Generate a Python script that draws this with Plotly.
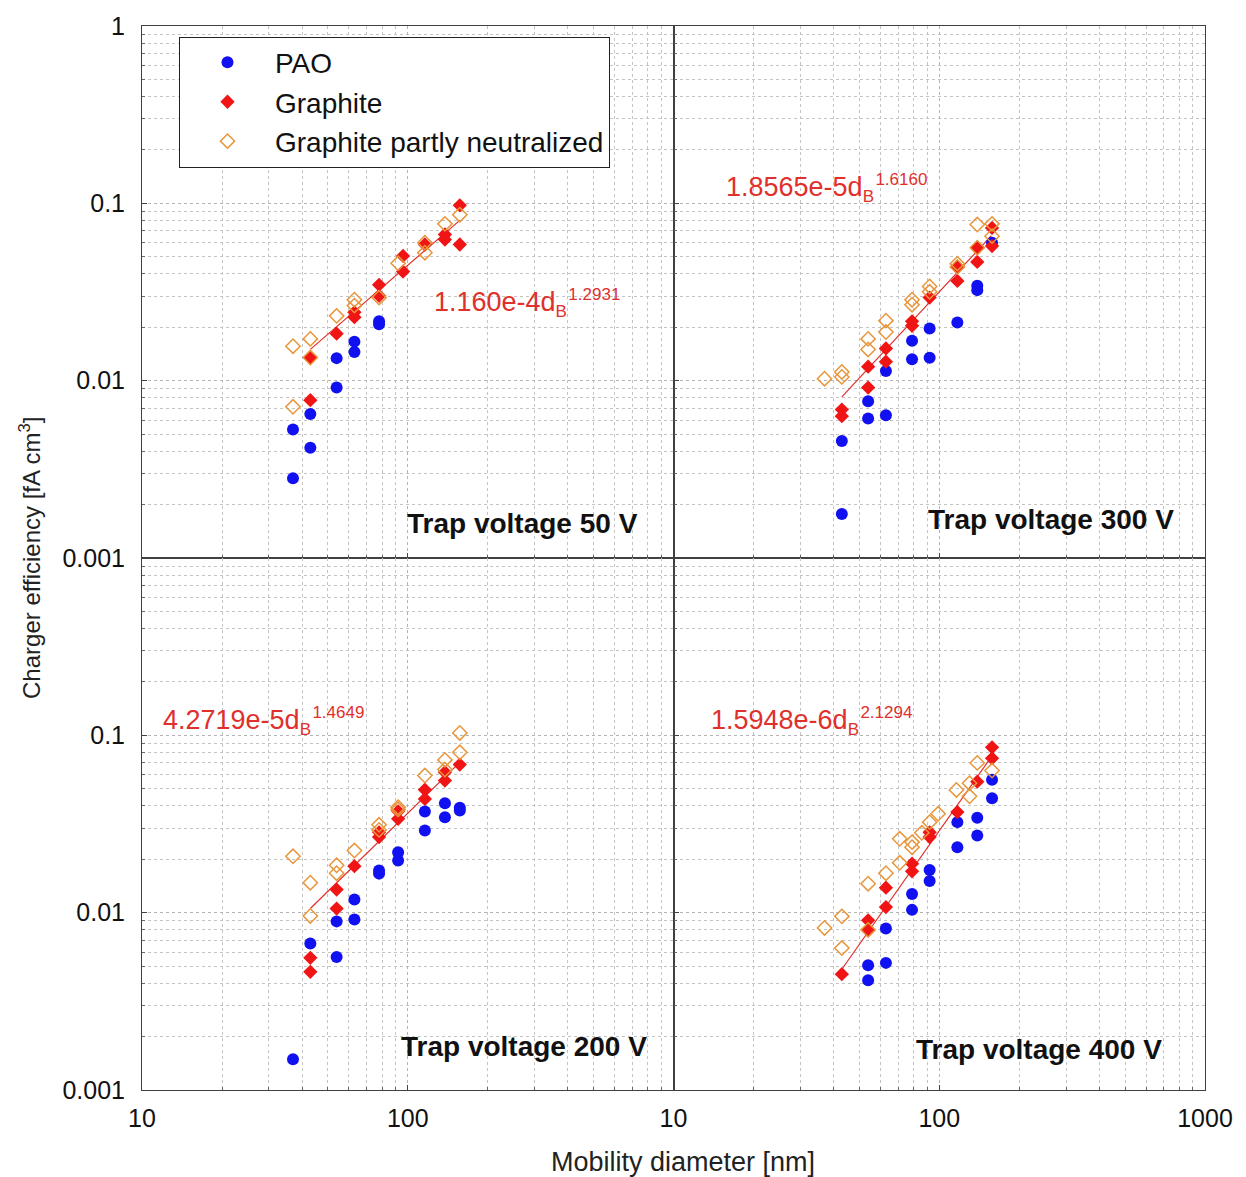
import numpy as np
import plotly.graph_objects as go

# ---- measured charger efficiencies [fA cm^3] vs mobility diameter [nm] ----
# Trap voltage 50 V
pao_50_d = [37, 37, 43, 43, 54, 54, 63, 63, 78, 78]
pao_50_v = [0.00531, 0.00282, 0.00648, 0.00419, 0.0134, 0.00914, 0.0166, 0.0145, 0.0216, 0.0208]
gra_50_d = [43, 43, 54, 63, 63, 78, 78, 96, 96, 116, 138, 138, 157, 157]
gra_50_v = [0.01345, 0.00776, 0.0184, 0.0243, 0.0228, 0.0347, 0.0301, 0.0505, 0.0412, 0.0586,
            0.0667, 0.0625, 0.0975, 0.0586]
neu_50_d = [37, 37, 43, 43, 54, 63, 63, 78, 92, 116, 116, 138, 157]
neu_50_v = [0.01564, 0.00712, 0.0172, 0.0135, 0.0232, 0.0286, 0.0265, 0.0294, 0.0459, 0.0600,
            0.0527, 0.0766, 0.0863]

# Trap voltage 300 V
pao_300_d = [43, 43, 54, 54, 63, 63, 79, 79, 92, 92, 117, 139, 139, 158]
pao_300_v = [0.00177, 0.00457, 0.00766, 0.00612, 0.01133, 0.00639, 0.0168, 0.0132, 0.0197,
             0.01345, 0.0213, 0.0343, 0.0324, 0.0600]
gra_300_d = [43, 43, 54, 54, 63, 63, 79, 79, 92, 117, 117, 139, 139, 158, 158]
gra_300_v = [0.00687, 0.00631, 0.0120, 0.00914, 0.0152, 0.0128, 0.0216, 0.0204, 0.0294, 0.0438,
             0.0365, 0.0562, 0.0467, 0.0727, 0.0574]
neu_300_d = [37, 43, 43, 54, 54, 63, 63, 79, 79, 92, 92, 117, 117, 139, 139, 158, 158]
neu_300_v = [0.01026, 0.0112, 0.0105, 0.0172, 0.0150, 0.0218, 0.0188, 0.0286, 0.0268, 0.0340,
             0.0317, 0.0457, 0.0438, 0.0759, 0.0562, 0.0766, 0.0653]

# Trap voltage 200 V
pao_200_d = [37, 43, 54, 54, 63, 63, 78, 78, 92, 92, 116, 116, 138, 138, 157, 157]
pao_200_v = [0.00149, 0.00670, 0.00893, 0.00563, 0.01188, 0.00914, 0.0173, 0.0166, 0.0219,
             0.0197, 0.0372, 0.0291, 0.0414, 0.0345, 0.0390, 0.0377]
gra_200_d = [43, 43, 54, 54, 63, 78, 78, 92, 92, 116, 116, 138, 138, 157]
gra_200_v = [0.00556, 0.00464, 0.0135, 0.01054, 0.0183, 0.0267, 0.0284, 0.0338, 0.0373, 0.0494,
             0.0438, 0.0619, 0.0556, 0.0684]
neu_200_d = [37, 43, 43, 54, 54, 63, 78, 78, 92, 92, 116, 138, 138, 157, 157]
neu_200_v = [0.0208, 0.01476, 0.00958, 0.0185, 0.0167, 0.0224, 0.0313, 0.0293, 0.0393, 0.0382,
             0.0593, 0.0727, 0.0641, 0.1031, 0.0802]

# Trap voltage 400 V
pao_400_d = [54, 54, 63, 63, 79, 79, 92, 92, 117, 117, 139, 139, 158, 158]
pao_400_v = [0.00505, 0.00416, 0.00813, 0.00521, 0.01276, 0.01037, 0.0174, 0.0151, 0.0324,
             0.0234, 0.0343, 0.0272, 0.0561, 0.0442]
gra_400_d = [43, 54, 54, 63, 63, 79, 79, 92, 92, 117, 139, 158, 158]
gra_400_v = [0.00450, 0.00905, 0.00796, 0.01384, 0.01076, 0.0189, 0.0171, 0.0284, 0.0267,
             0.0369, 0.0548, 0.0856, 0.0742]
neu_400_d = [37, 43, 43, 54, 54, 63, 71, 71, 79, 79, 86, 92, 99, 116, 130, 130, 139, 158]
neu_400_v = [0.00820, 0.00953, 0.00632, 0.01456, 0.0080, 0.0167, 0.0261, 0.0191, 0.0250, 0.0234,
             0.0282, 0.0324, 0.0361, 0.0492, 0.0453, 0.0537, 0.0699, 0.0633]

# power-law fits  eff = a * d^b  for the graphite data
fit_a = [1.160e-4, 1.8565e-5, 4.2719e-5, 1.5948e-6]
fit_b = [1.2931, 1.6160, 1.4649, 2.1294]
fit_labels = ["1.160e-4", "1.8565e-5", "4.2719e-5", "1.5948e-6"]
fit_range = [43, 157]

panel_titles = ["Trap voltage 50 V", "Trap voltage 300 V", "Trap voltage 200 V", "Trap voltage 400 V"]

# ---- styling ----
BLUE = "#1010f0"
RED = "#f01414"
ORANGE = "#e8963c"
FIT = "#e0302c"
FONT = "Liberation Sans, Arial, sans-serif"

panels = [
    (pao_50_d, pao_50_v, gra_50_d, gra_50_v, neu_50_d, neu_50_v),
    (pao_300_d, pao_300_v, gra_300_d, gra_300_v, neu_300_d, neu_300_v),
    (pao_200_d, pao_200_v, gra_200_d, gra_200_v, neu_200_d, neu_200_v),
    (pao_400_d, pao_400_v, gra_400_d, gra_400_v, neu_400_d, neu_400_v),
]
# (xaxis, yaxis) for each panel: top-left, top-right, bottom-left, bottom-right
axes = [("x", "y"), ("x2", "y2"), ("x3", "y3"), ("x4", "y4")]

fig = go.Figure()

for i, (pd_, pv, gd, gv, nd, nv) in enumerate(panels):
    xa, ya = axes[i]
    first = i == 0
    dfit = np.geomspace(fit_range[0], fit_range[1], 60)
    fig.add_trace(go.Scatter(x=dfit, y=fit_a[i] * dfit ** fit_b[i], mode="lines",
                             line=dict(color=FIT, width=1.2), showlegend=False,
                             hoverinfo="skip", xaxis=xa, yaxis=ya))
    fig.add_trace(go.Scatter(x=pd_, y=pv, mode="markers", name="PAO", legendgroup="pao",
                             showlegend=first, legendrank=1,
                             marker=dict(symbol="circle", size=12, color=BLUE, line=dict(width=0)),
                             xaxis=xa, yaxis=ya))
    fig.add_trace(go.Scatter(x=gd, y=gv, mode="markers", name="Graphite", legendgroup="gra",
                             showlegend=first, legendrank=2,
                             marker=dict(symbol="diamond", size=11, color=RED, line=dict(width=0)),
                             xaxis=xa, yaxis=ya))
    fig.add_trace(go.Scatter(x=nd, y=nv, mode="markers", name="Graphite partly neutralized",
                             legendgroup="neu", showlegend=first, legendrank=3,
                             marker=dict(symbol="diamond-open", size=11, color=ORANGE,
                                         line=dict(width=1.5, color=ORANGE)),
                             xaxis=xa, yaxis=ya))

grid = dict(showgrid=True, gridcolor="#b4b4b4", griddash="dot", gridwidth=1)
minor = dict(dtick="D1", showgrid=True, gridcolor="#c4c4c4", griddash="dot", gridwidth=1,
             ticks="inside", ticklen=3, tickcolor="#666")
common = dict(type="log", showline=True, linecolor="#404040", linewidth=1, mirror=True,
              ticks="inside", ticklen=5, tickcolor="#444", zeroline=False,
              tickfont=dict(family=FONT, size=25, color="#111"), minor=minor, **grid)

xdom = [[0, 0.5], [0.5, 1], [0, 0.5], [0.5, 1]]
ydom = [[0.5, 1], [0.5, 1], [0, 0.5], [0, 0.5]]
xticks = [[10, 100], [10, 100, 1000], [10, 100], [10, 100, 1000]]
yticks = [[0.001, 0.01, 0.1, 1], [0.001, 0.01, 0.1, 1], [0.001, 0.01, 0.1], [0.001, 0.01, 0.1]]

layout_axes = {}
for i in range(4):
    xs = "xaxis" if i == 0 else f"xaxis{i + 1}"
    ys = "yaxis" if i == 0 else f"yaxis{i + 1}"
    xa, ya = axes[i]
    layout_axes[xs] = dict(common, domain=xdom[i], range=[1, 3], anchor=ya,
                           tickvals=xticks[i], ticktext=[str(t) for t in xticks[i]],
                           showticklabels=i >= 2, ticklabelstandoff=6)
    layout_axes[ys] = dict(common, domain=ydom[i], range=[-3, 0], anchor=xa,
                           tickvals=yticks[i], ticktext=[("%g" % t) for t in yticks[i]],
                           showticklabels=i in (0, 2), ticklabelstandoff=11)

fig.update_layout(**layout_axes)


def eq_text(label, b):
    return (f"{label}d<sub><span style='font-size:17px'>B</span></sub>"
            f"<sup><span style='font-size:17px'>&#8202;{b:.4f}</span></sup>")


ann = []
# fit equations
eq_pos = [(0.2728, 0.740), (0.5475, 0.848), (0.0179, 0.347), (0.5334, 0.347)]
for i in range(4):
    ann.append(dict(x=eq_pos[i][0], y=eq_pos[i][1], xref="paper", yref="paper",
                    xanchor="left", yanchor="middle", showarrow=False,
                    text=eq_text(fit_labels[i], fit_b[i]),
                    font=dict(family=FONT, size=27, color=FIT)))
# panel titles
title_pos = [(0.3575, 0.5328), (0.8551, 0.5365), (0.3594, 0.0412), (0.8438, 0.0384)]
for i in range(4):
    ann.append(dict(x=title_pos[i][0], y=title_pos[i][1], xref="paper", yref="paper",
                    xanchor="center", yanchor="middle", showarrow=False,
                    text=f"<b>{panel_titles[i]}</b>",
                    font=dict(family=FONT, size=28, color="#111")))
# axis titles
ann.append(dict(x=0.509, y=-0.0674, xref="paper", yref="paper", showarrow=False,
                xanchor="center", yanchor="middle", text="Mobility diameter [nm]",
                font=dict(family=FONT, size=27, color="#222")))
ann.append(dict(x=-0.1054, y=0.5, xref="paper", yref="paper", showarrow=False,
                xanchor="center", yanchor="middle", textangle=-90,
                text="Charger efficiency [fA cm<sup>3</sup>]",
                font=dict(family=FONT, size=24, color="#222")))

fig.update_layout(
    width=1246, height=1177,
    margin=dict(l=142, r=41, t=22, b=87),
    paper_bgcolor="white", plot_bgcolor="white",
    annotations=ann,
    showlegend=True,
    legend=dict(x=0.0348, y=0.99, xanchor="left", yanchor="top",
                bgcolor="white", bordercolor="#222", borderwidth=1,
                font=dict(family=FONT, size=28, color="#111"),
                traceorder="normal", itemwidth=85),
)

fig.write_html("out.html")
